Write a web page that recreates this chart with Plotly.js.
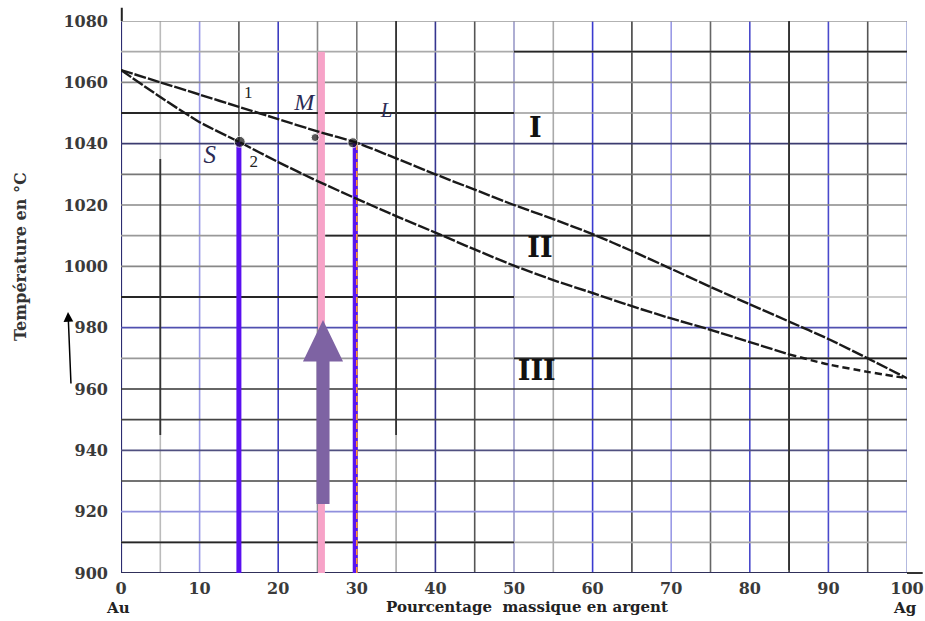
<!DOCTYPE html>
<html><head><meta charset="utf-8">
<script src="https://cdn.plot.ly/plotly-3.0.1.min.js"></script>
<style>html,body{margin:0;padding:0;background:#fff}#chart{width:925px;height:621px}</style>
</head><body><div id="chart"></div>
<script>
// ---- data ----
const liquidusComp = [0, 5, 10, 15, 20, 25, 30, 35, 40, 45, 50, 55, 60, 65, 70, 75, 80, 85, 90, 95, 100];
const liquidusT    = [1064, 1060, 1056, 1052, 1048, 1044, 1040.3, 1035.2, 1030, 1025, 1020, 1015.4, 1010.5, 1005, 999.2, 993.3, 987.6, 982, 976.3, 970, 963.5];
const solidusComp  = [0, 5, 10, 15, 20, 25, 30, 35, 40, 45, 50, 55, 60, 65, 70, 75, 80, 85];
const solidusT     = [1064, 1055.2, 1047, 1040.6, 1034, 1027.8, 1022, 1016.4, 1011, 1005.5, 1000.2, 995.5, 991.3, 987, 983, 979.3, 975.3, 971.3];
const solidusTailComp = [85, 90, 95, 100];
const solidusTailT    = [971.3, 968, 965.6, 963.5];

const pointNames = ['S', 'M', 'L'];
const pointComp  = [15.1, 24.7, 29.5];
const pointT     = [1040.6, 1042, 1040.3];
const pointLabelComp = [11.3, 23.3, 33.8];
const pointLabelT    = [1035.7, 1053, 1050.4];

const regionNames = ['I', 'II', 'III'];
const regionComp  = [52.7, 53.3, 52.9];
const regionT     = [1044.5, 1005.4, 965.3];

const curveNames = ['1', '2'];
const curveComp  = [16.2, 16.9];
const curveT     = [1056.2, 1033.7];

const solidComp = 15;      const solidTop = 1040.6;
const mixComp = 25.5;      const mixTop = 1070;
const liquidComp = 29.8;   const liquidTop = 1040.3;
const baseT = 900;

const arrowComp = 25.7, arrowTailT = 922.5, arrowBaseT = 969, arrowTipT = 982.5;

const xTicks = [0, 10, 20, 30, 40, 50, 60, 70, 80, 90, 100];
const yTicks = [900, 920, 940, 960, 980, 1000, 1020, 1040, 1060, 1080];

// ---- styles (grid paper) ----
const gridX = [0,5,10,15,20,25,30,35,40,45,50,55,60,65,70,75,80,85,90,95,100];
const gridXColor = ['#2c2c70','#bbbbbb','#9a9ae6','#555555','#3c3cc0','#888888','#777777','#aaaaaa','#35358f','#555555','#9a9ac8','#aaaaaa','#3a3ad0','#444444','#9a9ae6','#666666','#4a4acc','#333333','#4a4acc','#555555','#a0a8d8'];
const gridY = [900,910,920,930,940,950,960,970,980,990,1000,1010,1020,1030,1040,1050,1060,1070,1080];
const gridYColor = ['#30305a','#aaaaaa','#9090dd','#444444','#505080','#444444','#333333','#999999','#5050b0','#bbbbbb','#888888','#999999','#888888','#777777','#3c3c70','#999999','#888888','#aaaaaa','#999999'];
const darkSegs = [
  ['y',1070,50,100],['y',1050,0,50],['y',1010,26,75],['y',990,0,50],['y',970,50,100],['y',910,0,50],
  ['x',5,945,1035],['x',35,945,1080],['x',85,901,1080]
];

const shapes = [];
gridX.forEach((v,i)=>shapes.push({type:'line',layer:'below',xref:'x',yref:'y',x0:v,x1:v,y0:900,y1:1080,line:{color:gridXColor[i],width:(i===0?2.2:1.6)}}));
gridY.forEach((v,i)=>shapes.push({type:'line',layer:'below',xref:'x',yref:'y',x0:0,x1:100,y0:v,y1:v,line:{color:gridYColor[i],width:(i===0?2.2:1.6)}}));
darkSegs.forEach(s=>{
  if(s[0]==='y') shapes.push({type:'line',layer:'below',xref:'x',yref:'y',x0:s[2],x1:s[3],y0:s[1],y1:s[1],line:{color:'#262626',width:1.8}});
  else shapes.push({type:'line',layer:'below',xref:'x',yref:'y',x0:s[1],x1:s[1],y0:s[2],y1:s[3],line:{color:'#333333',width:1.8}});
});
shapes.push({type:'line',xref:'paper',yref:'paper',x0:0.001,x1:0.001,y0:1,y1:1.024,line:{color:'#222',width:2}});
shapes.push({type:'line',xref:'paper',yref:'paper',x0:1,x1:1.02,y0:0,y1:0,line:{color:'#333',width:2}});

const shaftHalf = 0.83, headHalf = 2.55;
const arrowX = [arrowComp-shaftHalf, arrowComp-shaftHalf, arrowComp-headHalf, arrowComp, arrowComp+headHalf, arrowComp+shaftHalf, arrowComp+shaftHalf, arrowComp-shaftHalf];
const arrowY = [arrowTailT, arrowBaseT, arrowBaseT, arrowTipT, arrowBaseT, arrowBaseT, arrowTailT, arrowTailT];

const serifB = 'DejaVu Serif';
const traces = [
  {x:[mixComp,mixComp], y:[baseT,mixTop], mode:'lines', line:{color:'#f7a3c8', width:7}, hoverinfo:'skip'},
  {x:[solidComp,solidComp], y:[baseT,solidTop], mode:'lines', line:{color:'#5a10f0', width:5}, hoverinfo:'skip'},
  {x:[liquidComp,liquidComp], y:[baseT,liquidTop], mode:'lines', line:{color:'#5a14ee', width:5}, hoverinfo:'skip'},
  {x:[liquidComp+0.2,liquidComp+0.2], y:[baseT,liquidTop], mode:'lines', line:{color:'#ff9a30', width:1.6, dash:'6px,3px'}, hoverinfo:'skip'},
  {x:liquidusComp, y:liquidusT, mode:'lines', line:{color:'#1a1a1a', width:2.4, dash:'12px,2px', shape:'spline', smoothing:0.6}, name:'liquidus'},
  {x:solidusComp, y:solidusT, mode:'lines', line:{color:'#1a1a1a', width:2.4, dash:'12px,2px', shape:'spline', smoothing:0.6}, name:'solidus'},
  {x:solidusTailComp, y:solidusTailT, mode:'lines', line:{color:'#1a1a1a', width:2.4, dash:'7px,4px', shape:'spline', smoothing:0.6}, name:'solidus'},
  {x:arrowX, y:arrowY, mode:'lines', fill:'toself', fillcolor:'#7e63a3', line:{color:'#7e63a3', width:0}, hoverinfo:'skip'},
  {x:pointComp, y:pointT, mode:'markers', marker:{color:'#111', size:[11,8,10]}, text:pointNames, hoverinfo:'text'},
  {x:pointLabelComp, y:pointLabelT, mode:'text', text:pointNames,
   textfont:{family:'Liberation Serif', size:[25,24,21], color:'#2b2b55', style:'italic'}, hoverinfo:'skip'},
  {x:regionComp, y:regionT, mode:'text', text:regionNames, textfont:{family:serifB, size:27, color:'#111', weight:'bold'}, hoverinfo:'skip'},
  {x:curveComp, y:curveT, mode:'text', text:curveNames, textfont:{family:'Liberation Serif', size:17, color:'#222'}, hoverinfo:'skip'}
];

const tickFont = {family:serifB, size:16, color:'#3a3a3a', weight:'bold'};
const lblFont = {family:serifB, size:15, color:'#222', weight:'bold'};
const layout = {
  width:925, height:621,
  margin:{l:121, r:18, t:21, b:48},
  paper_bgcolor:'#fff', plot_bgcolor:'#fff',
  showlegend:false,
  xaxis:{range:[0,100], tickvals:xTicks, ticktext:xTicks.map(String), showgrid:false, zeroline:false, showline:false, ticks:'', tickfont:tickFont, ticklabelstandoff:4, fixedrange:true},
  yaxis:{range:[900,1080], tickvals:yTicks, ticktext:yTicks.map(String), showgrid:false, zeroline:false, showline:false, ticks:'', tickfont:tickFont, ticklabelstandoff:12, fixedrange:true},
  shapes:shapes,
  annotations:[
    {xref:'paper', yref:'paper', x:0.5165, y:0, yanchor:'middle', yshift:-34, text:'Pourcentage  massique en argent', showarrow:false, font:lblFont},
    {xref:'paper', yref:'paper', x:0, xanchor:'center', xshift:-3, y:0, yanchor:'middle', yshift:-35, text:'Au', showarrow:false, font:lblFont},
    {xref:'paper', yref:'paper', x:1, xanchor:'center', xshift:-2, y:0, yanchor:'middle', yshift:-35, text:'Ag', showarrow:false, font:lblFont},
    {xref:'paper', yref:'paper', x:0, xshift:-100, xanchor:'center', y:0.5725, yanchor:'middle', text:'Température en °C', textangle:-90, showarrow:false, font:{family:serifB, size:16, color:'#333', weight:'bold'}},
    {xref:'paper', yref:'paper', x:-0.0674, y:0.4728, ax:3, ay:73, text:'', showarrow:true, arrowhead:2, arrowsize:1.3, arrowwidth:1.5, arrowcolor:'#000'}
  ]
};
Plotly.newPlot('chart', traces, layout, {displayModeBar:false, staticPlot:true});
</script>
</body></html>
